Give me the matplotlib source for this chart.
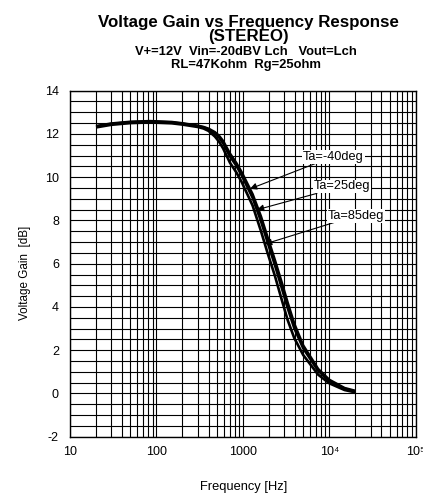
import numpy as np
import matplotlib.pyplot as plt
from matplotlib.ticker import FixedLocator, MultipleLocator, NullFormatter

plt.rcParams['font.family'] = ['Liberation Sans', 'DejaVu Sans']
plt.rcParams['axes.unicode_minus'] = False

# measured response, Hz / dB
freq = [20, 30, 50, 84, 150, 200, 300, 350, 400, 474, 530, 590, 708, 840, 966,
        1294, 1614, 1931, 2344, 2800, 3290, 3920, 4980, 7420, 10000, 15000,
        20000]
gain_m40 = [12.36, 12.48, 12.56, 12.59, 12.55, 12.49, 12.38, 12.32, 12.24, 12.08,
            11.91, 11.67, 11.09, 10.65, 10.23, 9.21, 8.19, 7.21, 6.16, 5.15,
            4.20, 3.23, 2.22, 1.13, 0.63, 0.25, 0.12]
gain_25 = [12.34, 12.46, 12.54, 12.57, 12.53, 12.47, 12.36, 12.30, 12.21, 12.02,
           11.83, 11.57, 10.96, 10.53, 10.09, 9.05, 7.98, 6.99, 5.94, 4.91,
           3.96, 3.03, 2.09, 1.05, 0.58, 0.22, 0.09]
gain_85 = [12.30, 12.42, 12.50, 12.53, 12.49, 12.43, 12.32, 12.25, 12.14, 11.88,
           11.64, 11.33, 10.67, 10.22, 9.78, 8.69, 7.52, 6.49, 5.44, 4.36,
           3.40, 2.57, 1.78, 0.87, 0.47, 0.16, 0.05]

labels = ['Ta=-40deg', 'Ta=25deg', 'Ta=85deg']
arrow_f = [1205, 1452, 1795]      # Hz where each arrow meets its curve
text_f = [4940, 6620, 9620]
text_g = [10.95, 9.57, 8.22]

fig = plt.figure(figsize=(4.23, 4.98), dpi=100)
ax = fig.add_axes([0.1655, 0.123, 0.8175, 0.695])

for g in (gain_m40, gain_25, gain_85):
    ax.plot(freq, g, color='black', lw=1.9, solid_capstyle='butt')

ax.set_xscale('log')
ax.set_xlim(10, 1e5)
ax.set_ylim(-2, 14)

ax.xaxis.set_major_locator(FixedLocator([10, 100, 1000, 1e4, 1e5]))
ax.set_xticklabels(['10', '100', '1000', '10⁴', '10⁵'])
minors = [m * 10 ** d for d in range(1, 5) for m in range(2, 10)]
ax.xaxis.set_minor_locator(FixedLocator(minors))
ax.xaxis.set_minor_formatter(NullFormatter())
ax.set_yticks(range(-2, 15, 2))
ax.yaxis.set_minor_locator(MultipleLocator(0.5))

ax.grid(True, which='both', color='black', lw=0.8)
ax.tick_params(which='both', length=0, labelsize=9)
ax.tick_params(axis='x', pad=7)
ax.tick_params(axis='y', pad=8)
for s in ax.spines.values():
    s.set_linewidth(1.0)

for name, f, g, tx, ty in zip(labels, arrow_f, (gain_m40, gain_25, gain_85),
                               text_f, text_g):
    y = np.interp(np.log10(f), np.log10(freq), g)
    ax.annotate(name, xy=(f, y), xytext=(tx, ty), fontsize=9.2, va='center',
                ha='left',
                bbox=dict(facecolor='white', edgecolor='none', pad=0.6),
                arrowprops=dict(arrowstyle='-|>', color='black', lw=0.8,
                                mutation_scale=10, shrinkA=0, shrinkB=0))

fig.text(0.587, 0.955, 'Voltage Gain vs Frequency Response', ha='center',
         va='center', fontsize=12.2, fontweight='bold')
fig.text(0.587, 0.926, '(STEREO)', ha='center', va='center', fontsize=12.2,
         fontweight='bold')
fig.text(0.582, 0.896, 'V+=12V  Vin=-20dBV Lch   Vout=Lch', ha='center',
         va='center', fontsize=9.4, fontweight='bold')
fig.text(0.582, 0.870, 'RL=47Kohm  Rg=25ohm', ha='center', va='center',
         fontsize=9.4, fontweight='bold')

fig.text(0.575, 0.022, 'Frequency [Hz]', ha='center', va='center', fontsize=9.3)
fig.text(0.06, 0.452, 'Voltage Gain  [dB]', ha='center', va='center',
         fontsize=8.4, rotation=90)

fig.savefig('out.png', dpi=100)
